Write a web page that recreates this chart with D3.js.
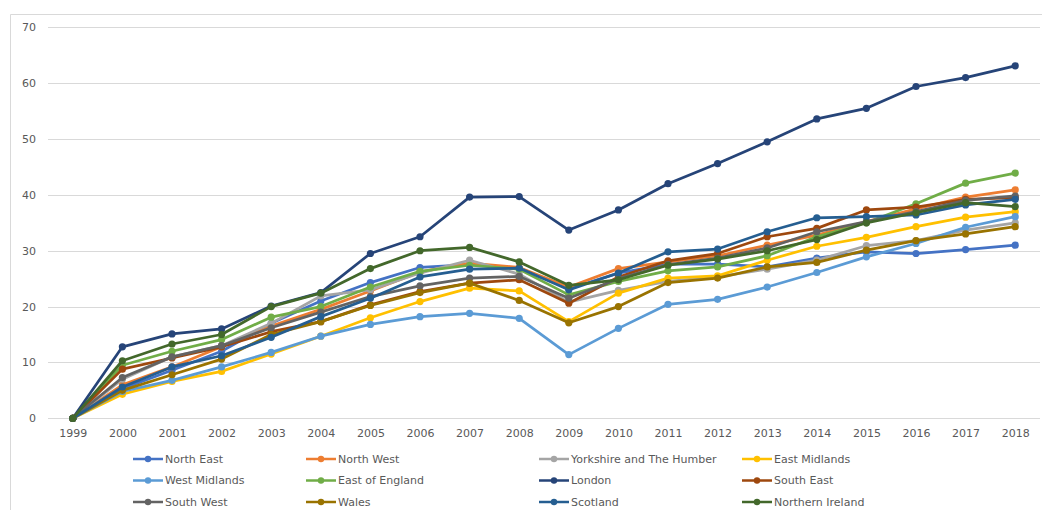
<!DOCTYPE html>
<html>
<head>
<meta charset="utf-8">
<script src="https://cdn.jsdelivr.net/npm/d3@7"></script>
<style>
    body { margin: 0; background: #fff; }
    text { font-family: 'DejaVu Sans', sans-serif; fill: #595959; }
</style>
</head>
<body>
<script>
// Data
const years = ['1999', '2000', '2001', '2002', '2003', '2004', '2005', '2006', '2007', '2008',
    '2009', '2010', '2011', '2012', '2013', '2014', '2015', '2016', '2017', '2018'];
const yTicks = [0, 10, 20, 30, 40, 50, 60, 70];

const northEast = [0, 5.3, 8.6, 12.0, 17.0, 21.0, 24.3, 27.0, 27.5, 26.9, 23.2, 26.0, 27.6, 27.6, 27.1, 28.7, 29.8, 29.5, 30.2, 31.0];
const northWest = [0, 6.0, 9.2, 12.8, 16.5, 19.5, 22.8, 26.2, 27.8, 27.0, 23.5, 26.8, 28.0, 29.1, 31.0, 32.8, 35.2, 37.5, 39.6, 40.9];
const yorkshire = [0, 7.0, 11.0, 13.0, 17.0, 21.9, 23.0, 26.0, 28.3, 25.8, 20.8, 22.9, 24.5, 25.3, 26.7, 28.3, 30.9, 31.8, 33.7, 35.0];
const eastMidlands = [0, 4.3, 6.6, 8.4, 11.5, 14.7, 18.0, 20.9, 23.3, 22.8, 17.3, 22.4, 25.1, 25.5, 28.3, 30.8, 32.4, 34.3, 36.0, 37.0];
const westMidlands = [0, 4.8, 6.8, 9.2, 11.8, 14.7, 16.8, 18.2, 18.8, 17.9, 11.4, 16.1, 20.4, 21.3, 23.5, 26.1, 28.9, 31.3, 34.2, 36.1];
const eastOfEngland = [0, 9.5, 12.0, 14.1, 18.1, 20.0, 23.5, 26.3, 27.4, 26.7, 22.1, 24.5, 26.4, 27.1, 29.1, 32.5, 35.0, 38.4, 42.1, 43.9];
const london = [0, 12.8, 15.1, 16.0, 20.1, 22.5, 29.5, 32.5, 39.6, 39.7, 33.7, 37.3, 42.0, 45.6, 49.5, 53.6, 55.5, 59.4, 61.0, 63.1];
const southEast = [0, 8.8, 10.8, 12.8, 15.5, 17.3, 20.3, 22.7, 24.2, 24.8, 20.6, 25.3, 28.2, 29.5, 32.5, 34.0, 37.3, 37.8, 39.2, 39.5];
const southWest = [0, 7.3, 11.0, 13.0, 16.2, 19.0, 21.8, 23.7, 25.1, 25.4, 21.5, 25.0, 27.5, 28.7, 30.5, 33.4, 35.2, 37.0, 39.0, 39.8];
const wales = [0, 5.0, 7.8, 10.6, 15.0, 17.3, 20.2, 22.5, 24.2, 21.1, 17.1, 20.0, 24.3, 25.1, 27.1, 27.9, 30.1, 31.8, 33.0, 34.3];
const scotland = [0, 5.6, 9.2, 11.2, 14.5, 18.2, 21.5, 25.3, 26.7, 26.9, 23.0, 26.0, 29.8, 30.3, 33.4, 35.9, 36.1, 36.4, 38.2, 39.2];
const northernIreland = [0, 10.3, 13.3, 15.0, 20.0, 22.4, 26.8, 30.0, 30.6, 28.0, 23.8, 24.8, 27.4, 28.5, 30.0, 32.0, 35.0, 36.8, 38.6, 37.9];

const seriesNames = ['North East', 'North West', 'Yorkshire and The Humber', 'East Midlands',
    'West Midlands', 'East of England', 'London', 'South East',
    'South West', 'Wales', 'Scotland', 'Northern Ireland'];
const seriesValues = [northEast, northWest, yorkshire, eastMidlands,
    westMidlands, eastOfEngland, london, southEast,
    southWest, wales, scotland, northernIreland];
const colors = ['#4472C4', '#ED7D31', '#A5A5A5', '#FFC000',
    '#5B9BD5', '#70AD47', '#264478', '#9E480E',
    '#636363', '#997300', '#255E91', '#43682B'];

const series = seriesNames.map((name, i) => ({ name, values: seriesValues[i], color: colors[i] }));

const width = 1042, height = 510;
const plot = { left: 48, right: 1040, top: 27.3, bottom: 418.3 };

let svg = d3.select('body')
    .append('svg')
    .attr('width', width)
    .attr('height', height);

// chart border (left / top edges visible)
svg.append('path')
    .attr('d', `M10.5,${height} V14.5 H${width}`)
    .attr('fill', 'none')
    .attr('stroke', '#d9d9d9');

// Scales
const x = d3.scalePoint().domain(years).range([plot.left, plot.right]).padding(0.5);
const y = d3.scaleLinear().domain([0, 70]).range([plot.bottom, plot.top]);

// Gridlines
svg.append('g')
    .selectAll('line')
    .data(yTicks)
    .join('line')
    .attr('x1', plot.left)
    .attr('x2', plot.right)
    .attr('y1', d => Math.round(y(d)) + 0.5)
    .attr('y2', d => Math.round(y(d)) + 0.5)
    .attr('stroke', '#d9d9d9')
    .attr('stroke-width', 1);

// Y axis labels
let yAxis = svg.append('g')
    .attr('transform', `translate(${plot.left - 12}, 0)`)
    .call(d3.axisLeft(y).tickValues(yTicks).tickSize(0).tickPadding(0));
yAxis.select('.domain').remove();
yAxis.selectAll('text').attr('font-size', 11).attr('fill', '#595959').style('font-family', 'DejaVu Sans');

// X axis labels
let xAxis = svg.append('g')
    .attr('transform', `translate(0, ${plot.bottom + 11})`)
    .call(d3.axisBottom(x).tickSize(0).tickPadding(0));
xAxis.select('.domain').remove();
xAxis.selectAll('text').attr('font-size', 11).attr('fill', '#595959').style('font-family', 'DejaVu Sans');

// Lines + markers
const line = d3.line()
    .x((d, i) => x(years[i]))
    .y(d => y(d));

let groups = svg.append('g')
    .selectAll('g')
    .data(series)
    .join('g');

groups.append('path')
    .attr('d', d => line(d.values))
    .attr('fill', 'none')
    .attr('stroke', d => d.color)
    .attr('stroke-width', 2.75)
    .attr('stroke-linejoin', 'round');

groups.selectAll('circle')
    .data(d => d.values.map((v, i) => ({ v, i, color: d.color })))
    .join('circle')
    .attr('cx', d => x(years[d.i]))
    .attr('cy', d => y(d.v))
    .attr('r', 3.6)
    .attr('fill', d => d.color);

// Legend: 4 columns x 3 rows
const legendCols = [133, 306, 539, 742];
const legendRows = [459, 480.5, 502];

let legend = svg.append('g')
    .selectAll('g')
    .data(series)
    .join('g')
    .attr('transform', (d, i) => `translate(${legendCols[i % 4]}, ${legendRows[Math.floor(i / 4)]})`);

legend.append('line')
    .attr('x1', 0)
    .attr('x2', 30)
    .attr('stroke', d => d.color)
    .attr('stroke-width', 2.5);

legend.append('circle')
    .attr('cx', 15)
    .attr('r', 3.2)
    .attr('fill', d => d.color);

legend.append('text')
    .attr('x', 32)
    .attr('dy', '0.35em')
    .attr('font-size', 11)
    .text(d => d.name);
</script>
</body>
</html>
